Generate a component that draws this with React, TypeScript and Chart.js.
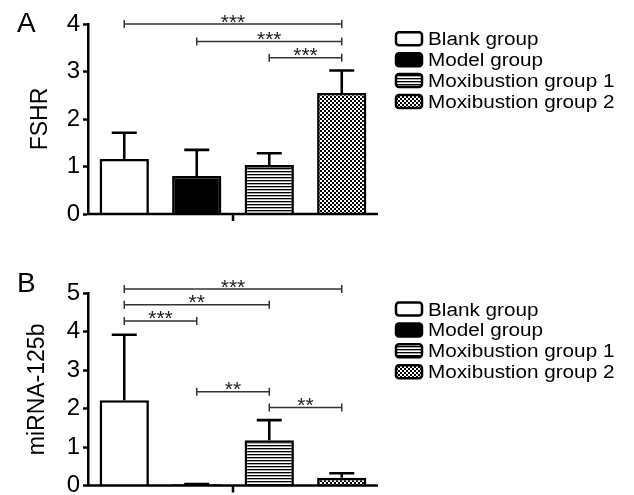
import React, { useEffect, useRef } from 'react';
import { Chart, registerables } from 'chart.js';

Chart.register(...registerables);

// ---------- data ----------
const groups = ['Blank group', 'Model group', 'Moxibustion group 1', 'Moxibustion group 2'];

const fshrMeans = [1.16, 0.8, 1.03, 2.55];
const fshrSD = [0.55, 0.55, 0.25, 0.47];
const fshrMax = 4;
const fshrSig = [
  { from: 0, to: 3, y: 4.0, label: '***' },
  { from: 1, to: 3, y: 3.63, label: '***' },
  { from: 2, to: 3, y: 3.29, label: '***' },
];

const mirMeans = [2.22, 0.03, 1.18, 0.2];
const mirSD = [1.7, 0.01, 0.52, 0.12];
const mirMax = 5;
const mirSig = [
  { from: 0, to: 3, y: 5.11, label: '***' },
  { from: 0, to: 2, y: 4.7, label: '**' },
  { from: 0, to: 1, y: 4.28, label: '***' },
  { from: 1, to: 2, y: 2.44, label: '**' },
  { from: 2, to: 3, y: 2.03, label: '**' },
];

const FONT = "'Liberation Sans', Arial, Helvetica, sans-serif";

function makeFills(): (string | CanvasPattern)[] {
  const stripe = document.createElement('canvas');
  stripe.width = 4;
  stripe.height = 3;
  const s = stripe.getContext('2d')!;
  s.fillStyle = '#fff';
  s.fillRect(0, 0, 4, 3);
  s.fillStyle = '#000';
  s.fillRect(0, 0, 4, 1);
  s.fillStyle = '#aaa';
  s.fillRect(0, 1, 4, 1);
  const check = document.createElement('canvas');
  check.width = 4;
  check.height = 4;
  const c = check.getContext('2d')!;
  c.fillStyle = '#000';
  c.fillRect(0, 0, 4, 4);
  c.fillStyle = '#fff';
  c.fillRect(0, 0, 2, 2);
  c.fillRect(2, 2, 2, 2);
  const ctx = document.createElement('canvas').getContext('2d')!;
  return ['#ffffff', '#000000', ctx.createPattern(stripe, 'repeat')!, ctx.createPattern(check, 'repeat')!];
}

type Sig = { from: number; to: number; y: number; label: string };

interface PanelProps {
  top: number;
  height: number;
  means: number[];
  sd: number[];
  max: number;
  sig: Sig[];
  title: string;
  titlePad: number;
  padTop: number;
  padBottom: number;
  letter: string;
  letterY: number;
  legendY: number;
}

function Panel(p: PanelProps) {
  const ref = useRef<HTMLCanvasElement>(null);
  useEffect(() => {
    if (!ref.current) return;
    const fills = makeFills();
    const extras = {
      id: 'extras',
      afterDatasetsDraw(chart: any) {
        const ctx = chart.ctx;
        const y = chart.scales.y;
        const meta = chart.getDatasetMeta(0);
        ctx.save();
        ctx.strokeStyle = '#000';
        ctx.lineWidth = 2.6;
        meta.data.forEach((el: any, i: number) => {
          const yTop = y.getPixelForValue(p.means[i] + p.sd[i]);
          ctx.beginPath();
          ctx.moveTo(el.x, el.y);
          ctx.lineTo(el.x, yTop);
          ctx.moveTo(el.x - 12.5, yTop);
          ctx.lineTo(el.x + 12.5, yTop);
          ctx.stroke();
        });
        ctx.restore();
      },
      afterDraw(chart: any) {
        const ctx = chart.ctx;
        const { left, right, bottom } = chart.chartArea;
        const x = chart.scales.x;
        const y = chart.scales.y;
        ctx.save();
        // x axis baseline + centre tick
        ctx.strokeStyle = '#000';
        ctx.lineWidth = 2.5;
        ctx.beginPath();
        ctx.moveTo(left - 1, bottom);
        ctx.lineTo(right, bottom);
        const mid = (left + right) / 2;
        ctx.moveTo(mid, bottom);
        ctx.lineTo(mid, bottom + 7);
        ctx.stroke();
        // significance brackets
        ctx.strokeStyle = '#333';
        ctx.lineWidth = 1.5;
        ctx.fillStyle = '#222';
        ctx.font = `21px ${FONT}`;
        ctx.textAlign = 'center';
        ctx.textBaseline = 'alphabetic';
        p.sig.forEach((s) => {
          const x1 = x.getPixelForValue(s.from);
          const x2 = x.getPixelForValue(s.to);
          const yy = y.getPixelForValue(s.y);
          ctx.beginPath();
          ctx.moveTo(x1, yy);
          ctx.lineTo(x2, yy);
          ctx.moveTo(x1, yy - 4);
          ctx.lineTo(x1, yy + 4);
          ctx.moveTo(x2, yy - 4);
          ctx.lineTo(x2, yy + 4);
          ctx.stroke();
          ctx.fillText(s.label, (x1 + x2) / 2, yy + 4.5);
        });
        // panel letter
        ctx.fillStyle = '#000';
        ctx.textAlign = 'left';
        ctx.font = `28px ${FONT}`;
        ctx.fillText(p.letter, 17, p.letterY);
        // legend
        const boxX = 396;
        const rowH = 20.9;
        groups.forEach((g, i) => {
          const cy = p.legendY + i * rowH;
          ctx.beginPath();
          ctx.roundRect(boxX, cy - 6.5, 26, 13, 3);
          ctx.fillStyle = fills[i];
          ctx.fill();
          ctx.strokeStyle = '#000';
          ctx.lineWidth = 2.5;
          ctx.stroke();
          ctx.save();
          ctx.translate(428, cy + 6.5);
          ctx.scale(1.15, 1);
          ctx.fillStyle = '#000';
          ctx.font = `18px ${FONT}`;
          ctx.fillText(g, 0, 0);
          ctx.restore();
        });
        ctx.restore();
      },
    };
    const chart = new Chart(ref.current, {
      type: 'bar',
      data: {
        labels: groups,
        datasets: [
          {
            data: p.means,
            backgroundColor: fills as any,
            borderColor: '#000',
            borderWidth: 2.6,
            barPercentage: 0.68,
            categoryPercentage: 1,
          },
        ],
      },
      options: {
        animation: false,
        responsive: false,
        events: [],
        layout: { padding: { left: 0, right: 634 - 378, top: p.padTop, bottom: p.padBottom } },
        plugins: { legend: { display: false }, tooltip: { enabled: false } },
        scales: {
          x: { display: false, offset: true },
          y: {
            min: 0,
            max: p.max,
            ticks: { stepSize: 1, color: '#000', font: { family: FONT, size: 24 }, padding: 3 },
            grid: { drawOnChartArea: false, tickLength: 5, tickWidth: 2.5, tickColor: '#000' } as any,
            border: { color: '#000', width: 2.5 },
            title: {
              display: true,
              text: p.title,
              color: '#000',
              font: { family: FONT, size: 23 },
              padding: { top: p.titlePad, bottom: 0 },
            },
            afterFit: (s: any) => {
              s.width = 88;
              s.paddingTop = 0;
              s.paddingBottom = 0;
            },
          },
        },
      },
      plugins: [extras],
    });
    return () => chart.destroy();
  }, []);
  return (
    <canvas
      ref={ref}
      width={634}
      height={p.height}
      style={{ position: 'absolute', left: 0, top: p.top, width: 634, height: p.height }}
    />
  );
}

export default function App() {
  return (
    <div style={{ position: 'absolute', left: 0, top: 0, width: 634, height: 495, background: '#fff', overflow: 'hidden' }}>
      <Panel
        top={0}
        height={250}
        means={fshrMeans}
        sd={fshrSD}
        max={fshrMax}
        sig={fshrSig}
        title="FSHR"
        titlePad={27}
        padTop={24}
        padBottom={36}
        letter="A"
        letterY={32}
        legendY={38.8}
      />
      <Panel
        top={250}
        height={245}
        means={mirMeans}
        sd={mirSD}
        max={mirMax}
        sig={mirSig}
        title="miRNA-125b"
        titlePad={24}
        padTop={43.3}
        padBottom={9.5}
        letter="B"
        letterY={42}
        legendY={59}
      />
    </div>
  );
}
